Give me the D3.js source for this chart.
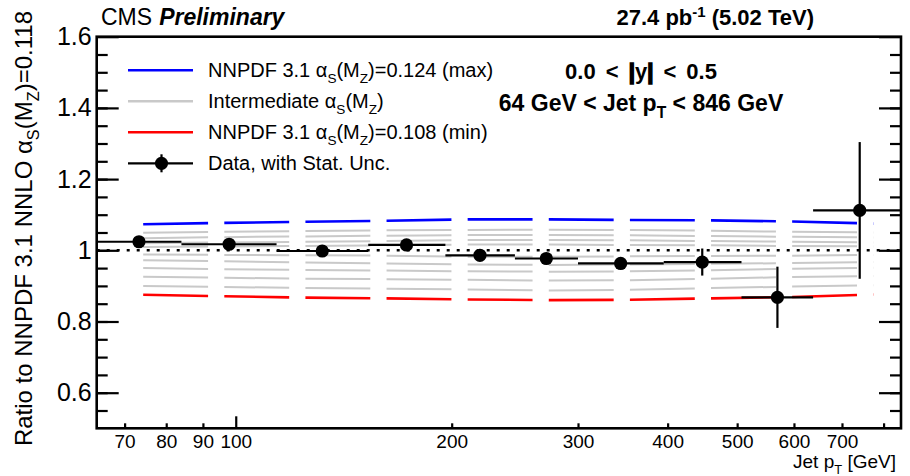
<!DOCTYPE html>
<html>
<head>
<meta charset="utf-8">
<script src="https://cdn.jsdelivr.net/npm/d3@7"></script>
<style>
  body { margin: 0; background: #fff; }
  text { font-family: "Liberation Sans", Arial, sans-serif; fill: #000; }
</style>
</head>
<body>
<svg id="chart" width="910" height="476"></svg>
<script>
// pT bins of the measurement
var ptEdges = [64, 84, 114, 153, 196, 245, 300, 395, 507, 638, 846];
var ptCenters = [73.3, 97.9, 132, 173, 219, 271, 344, 447, 569, 741];
var dataRatio = [1.024, 1.017, 0.998, 1.015, 0.986, 0.977, 0.963, 0.967, 0.868, 1.112];
var dataErr = [0.004, 0.004, 0.005, 0.006, 0.007, 0.009, 0.012, 0.038, 0.086, 0.192];

// theory curves (ratio to alpha_s = 0.118)
var theoryPt = [74.3, 96.4, 125.1, 162.3, 210.6, 273.2, 354.5, 460.0, 596.9, 774.4];
var as124 = [1.073, 1.077, 1.080, 1.083, 1.087, 1.087, 1.085, 1.084, 1.081, 1.075];
var as122 = [1.049, 1.052, 1.054, 1.056, 1.057, 1.058, 1.057, 1.055, 1.052, 1.050];
var as121 = [1.034, 1.037, 1.039, 1.041, 1.043, 1.043, 1.042, 1.040, 1.038, 1.036];
var as120 = [1.020, 1.022, 1.024, 1.026, 1.029, 1.029, 1.028, 1.026, 1.024, 1.022];
var as119 = [1.009, 1.011, 1.012, 1.014, 1.016, 1.016, 1.015, 1.014, 1.012, 1.011];
var as117 = [0.988, 0.987, 0.986, 0.985, 0.982, 0.982, 0.983, 0.984, 0.985, 0.987];
var as116 = [0.972, 0.969, 0.966, 0.963, 0.960, 0.959, 0.960, 0.962, 0.964, 0.967];
var as114 = [0.950, 0.947, 0.945, 0.943, 0.941, 0.940, 0.941, 0.944, 0.948, 0.951];
var as112 = [0.926, 0.923, 0.920, 0.919, 0.917, 0.915, 0.916, 0.920, 0.925, 0.928];
var as110 = [0.900, 0.897, 0.894, 0.892, 0.890, 0.887, 0.889, 0.894, 0.898, 0.902];
var as108 = [0.875, 0.871, 0.867, 0.865, 0.862, 0.860, 0.861, 0.865, 0.869, 0.876];
var intermediate = [as122, as121, as120, as119, as117, as116, as114, as112, as110];

var xTickValues = [70, 80, 90, 100, 200, 300, 400, 500, 600, 700, 800];
var xTickLabels = ['70', '80', '90', '100', '200', '300', '400', '500', '600', '700', ''];
var yTickLabels = [0.6, 0.8, 1, 1.2, 1.4, 1.6];

var svg = d3.select('#chart');
var pLeft = 96.7, pRight = 901, pTop = 36.7, pBottom = 428.3;

var x = d3.scaleLog().domain([64, 846]).range([pLeft, pRight]);
var y = d3.scaleLinear().domain([0.5, 1.6]).range([pBottom, pTop]);

// write text with sub/superscripts
function rich(sel, parts, size) {
  var cur = 0;
  parts.forEach(function(p) {
    var target = p[1] === 'sub' ? size * 0.3 : (p[1] === 'sup' ? -size * 0.38 : 0);
    var ts = sel.append('tspan').text(p[0]).attr('dy', target - cur);
    if (p[1] === 'sub' || p[1] === 'sup') ts.attr('font-size', size * 0.68);
    if (p[1] === 'thick') ts.attr('stroke', '#000').attr('stroke-width', 1.6);
    cur = target;
  });
}

// theory lines, dashed so that each piece starts at a node
var step = x(theoryPt[1]) - x(theoryPt[0]);
var dash = (step * 0.8) + ' ' + (step * 0.2);
var line = d3.line()
  .x(function(d, i) { return x(theoryPt[i]); })
  .y(function(d) { return y(d); });

svg.selectAll('path.gray').data(intermediate)
  .enter().append('path')
  .attr('class', 'gray')
  .attr('d', line)
  .attr('fill', 'none')
  .attr('stroke', '#c9c9c9')
  .attr('stroke-width', 2)
  .attr('stroke-dasharray', dash);

[[as124, '#0000ff'], [as108, '#ff0000']].forEach(function(s) {
  svg.append('path')
    .attr('d', line(s[0]))
    .attr('fill', 'none')
    .attr('stroke', s[1])
    .attr('stroke-width', 2.6)
    .attr('stroke-dasharray', dash);
});

// reference line at 1
svg.append('line')
  .attr('x1', pLeft).attr('x2', pRight)
  .attr('y1', y(1)).attr('y2', y(1))
  .attr('stroke', '#000').attr('stroke-width', 2.6)
  .attr('stroke-dasharray', '3 7');

// data
var pts = svg.append('g');
ptCenters.forEach(function(c, i) {
  pts.append('line')
    .attr('x1', x(ptEdges[i])).attr('x2', x(ptEdges[i + 1]))
    .attr('y1', y(dataRatio[i])).attr('y2', y(dataRatio[i]))
    .attr('stroke', '#000').attr('stroke-width', 2.2);
  pts.append('line')
    .attr('x1', x(c)).attr('x2', x(c))
    .attr('y1', y(dataRatio[i] - dataErr[i])).attr('y2', y(dataRatio[i] + dataErr[i]))
    .attr('stroke', '#000').attr('stroke-width', 2.2);
  pts.append('circle')
    .attr('cx', x(c)).attr('cy', y(dataRatio[i]))
    .attr('r', 6.6).attr('fill', '#000');
});

// axes
var yMinor = d3.range(0.55, 1.6, 0.05);
svg.append('g').attr('transform', 'translate(' + pLeft + ',0)')
  .call(d3.axisLeft(y).tickValues(yMinor).tickSize(-11).tickFormat(''));
var yLeft = svg.append('g').attr('transform', 'translate(' + pLeft + ',0)')
  .call(d3.axisLeft(y).tickValues(yTickLabels).tickSize(-22).tickPadding(5)
    .tickFormat(function(d) { return String(+d.toFixed(1)); }));
yLeft.selectAll('text').attr('font-size', 25).attr('font-family', 'Liberation Sans, Arial, sans-serif');
svg.append('g').attr('transform', 'translate(' + pRight + ',0)')
  .call(d3.axisRight(y).tickValues(yMinor).tickSize(-11).tickFormat(''));
svg.append('g').attr('transform', 'translate(' + pRight + ',0)')
  .call(d3.axisRight(y).tickValues(yTickLabels).tickSize(-22).tickFormat(''));

var xAxis = svg.append('g').attr('transform', 'translate(0,' + pBottom + ')')
  .call(d3.axisBottom(x).tickValues(xTickValues).tickSize(-5).tickPadding(6)
    .tickFormat(function(d, i) { return xTickLabels[i]; }));
xAxis.selectAll('.tick line').filter(function(d) { return d === 100; }).attr('y2', -12);
xAxis.selectAll('text').attr('font-size', 19).attr('font-family', 'Liberation Sans, Arial, sans-serif');

svg.selectAll('.domain').remove();
svg.selectAll('.tick line').attr('stroke', '#000').attr('stroke-width', 2.2);

// frame
svg.append('rect')
  .attr('x', pLeft).attr('y', pTop)
  .attr('width', pRight - pLeft).attr('height', pBottom - pTop)
  .attr('fill', 'none').attr('stroke', '#000').attr('stroke-width', 2.6);

// axis titles
var yt = svg.append('text')
  .attr('transform', 'translate(32,11) rotate(-90)')
  .attr('text-anchor', 'end').attr('font-size', 24);
rich(yt, [['Ratio to NNPDF 3.1 NNLO \u03b1'], ['S', 'sub'], ['(M'], ['Z', 'sub'], [')=0.118']], 24);

var xt = svg.append('text')
  .attr('x', 896).attr('y', 468)
  .attr('text-anchor', 'end').attr('font-size', 19);
rich(xt, [['Jet p'], ['T', 'sub'], [' [GeV]']], 19);

// header
var cms = svg.append('text').attr('x', 101).attr('y', 25).attr('font-size', 23);
cms.append('tspan').text('CMS');
cms.append('tspan').attr('dx', 7).attr('font-weight', 'bold').attr('font-style', 'italic').text('Preliminary');

var lumi = svg.append('text').attr('x', 814).attr('y', 25)
  .attr('text-anchor', 'end').attr('font-size', 22).attr('font-weight', 'bold');
rich(lumi, [['27.4 pb'], ['-1', 'sup'], [' (5.02 TeV)']], 22);

// selection labels
var sel1 = svg.append('text').attr('x', 641).attr('y', 79)
  .attr('text-anchor', 'middle').attr('font-size', 22).attr('font-weight', 'bold')
  .attr('word-spacing', 4);
rich(sel1, [['0.0 < '], ['|', 'thick'], ['y'], ['|', 'thick'], [' < 0.5']], 22);
var sel2 = svg.append('text').attr('x', 641).attr('y', 111)
  .attr('text-anchor', 'middle').attr('font-size', 23).attr('font-weight', 'bold');
rich(sel2, [['64 GeV < Jet p'], ['T', 'sub'], [' < 846 GeV']], 23);

// legend
var legendRows = [
  {color: '#0000ff', parts: [['NNPDF 3.1 \u03b1'], ['S', 'sub'], ['(M'], ['Z', 'sub'], [')=0.124 (max)']]},
  {color: '#c9c9c9', parts: [['Intermediate \u03b1'], ['S', 'sub'], ['(M'], ['Z', 'sub'], [')']]},
  {color: '#ff0000', parts: [['NNPDF 3.1 \u03b1'], ['S', 'sub'], ['(M'], ['Z', 'sub'], [')=0.108 (min)']]},
  {color: '#000', parts: [['Data, with Stat. Unc.']], marker: true}
];
var lg = svg.append('g');
legendRows.forEach(function(r, i) {
  var ly = 70.3 + i * 31;
  lg.append('line').attr('x1', 128).attr('x2', 193).attr('y1', ly).attr('y2', ly)
    .attr('stroke', r.color).attr('stroke-width', r.marker ? 2.2 : 2.6);
  if (r.marker) {
    lg.append('line').attr('x1', 161.5).attr('x2', 161.5).attr('y1', ly - 9).attr('y2', ly + 9)
      .attr('stroke', '#000').attr('stroke-width', 2.2);
    lg.append('circle').attr('cx', 161.5).attr('cy', ly).attr('r', 6.6).attr('fill', '#000');
  }
  var t = lg.append('text').attr('x', 208).attr('y', ly + 7).attr('font-size', 20);
  rich(t, r.parts, 20);
});
</script>
</body>
</html>
